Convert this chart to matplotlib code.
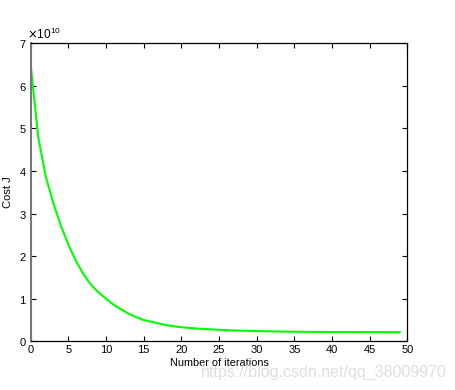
import matplotlib
matplotlib.use("Agg")
import matplotlib.pyplot as plt
from matplotlib.ticker import ScalarFormatter, MultipleLocator

plt.rcParams['font.family'] = ['Liberation Sans', 'DejaVu Sans']

iterations = list(range(50))
cost_j = [6.50, 4.80, 3.87, 3.25, 2.72, 2.27, 1.89, 1.58, 1.33, 1.15,
          1.00, 0.86, 0.75, 0.65, 0.57, 0.50, 0.46, 0.42, 0.38, 0.355,
          0.33, 0.315, 0.30, 0.29, 0.28, 0.27, 0.262, 0.255, 0.25, 0.245,
          0.24, 0.236, 0.233, 0.23, 0.227, 0.225, 0.223, 0.222, 0.221, 0.220,
          0.219, 0.218, 0.218, 0.217, 0.217, 0.216, 0.216, 0.215, 0.215, 0.215]
cost_j = [v * 1e10 for v in cost_j]

fig = plt.figure(figsize=(4.56, 3.90), dpi=100)
ax = fig.add_axes([30.7/456, 1-341.3/390, (407.3-30.7)/456, (341.3-43.3)/390])

ax.plot(iterations, cost_j, color='#00ff00', linewidth=1.5)

ax.set_xlim(0, 50)
ax.set_ylim(0, 7e10)
ax.xaxis.set_major_locator(MultipleLocator(5))
ax.yaxis.set_major_locator(MultipleLocator(1e10))
fmt = ScalarFormatter(useMathText=True)
ax.yaxis.set_major_formatter(fmt)
ax.yaxis.get_offset_text().set_fontsize(8.5)
ax.yaxis.get_offset_text().set_x(-0.01)

ax.tick_params(direction='in', top=True, right=True, labelsize=8, length=3.5, width=0.8, pad=3)
for s in ax.spines.values():
    s.set_linewidth(0.9)
ax.spines['left'].set_color('#777777')
ax.spines['left'].set_linewidth(1.5)

ax.set_xlabel('Number of iterations', fontsize=7.8, labelpad=2)
ax.set_ylabel('Cost J', fontsize=8, labelpad=4)

fig.text(447/456, 1-372/390, 'https://blog.csdn.net/qq_38009970', fontsize=11.5,
         color='#dedede', ha='right', va='center')

fig.savefig('out.png', dpi=100)
